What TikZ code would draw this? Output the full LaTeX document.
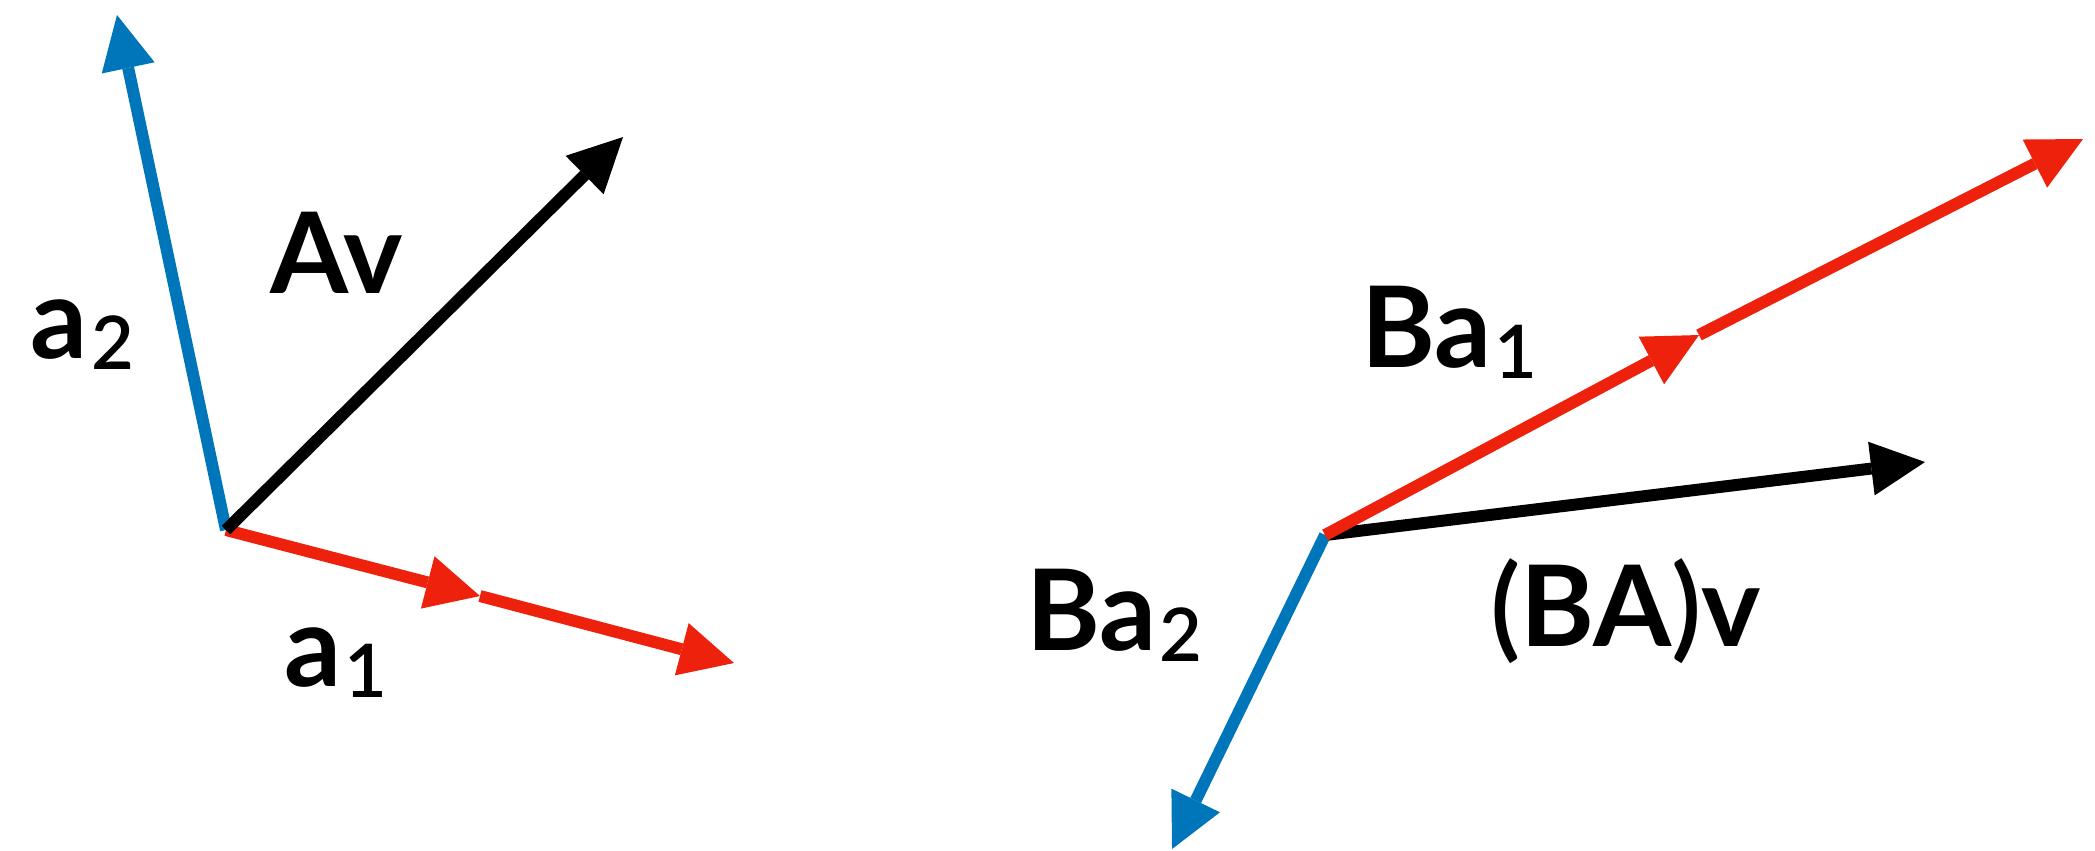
\documentclass[tikz,border=0pt]{standalone}
\usepackage{fontspec}
\setmainfont{Lato}
\newfontfamily\thinfont{Lato Light}
\usepackage{tikz}
\usetikzlibrary{arrows.meta, positioning}
\definecolor{vecblue}{RGB}{0,118,186}
\definecolor{vecred}{RGB}{238,34,12}
\tikzstyle{vec} = [line width=3.4pt, -{Triangle[length=0.54cm, width=0.54cm, line width=0pt]}]
\tikzstyle{vecb} = [vec, draw=vecblue]
\tikzstyle{vecr} = [vec, draw=vecred]
\tikzstyle{veck} = [vec, draw=black]
\tikzstyle{lab} = [inner sep=0pt, outer sep=0pt, anchor=base west, font=\fontsize{32}{38}\selectfont\bfseries]
\newcommand{\vsub}[1]{\kern1pt\raisebox{-3.4pt}{\fontsize{21}{25}\selectfont\thinfont #1}}

\begin{document}
\begin{tikzpicture}[x=0.01cm, y=-0.01cm]
            \useasboundingbox (0,0) rectangle (2095,850);

            % Points
            \coordinate (o1) at (226,530);
            \coordinate (a2) at (117,15);
            \coordinate (av) at (623,137);
            \coordinate (a1) at (480,596);
            \coordinate (a1b) at (734,663);

            \coordinate (o2) at (1325,535);
            \coordinate (ba1) at (1699,335);
            \coordinate (ba1b) at (2083,139);
            \coordinate (bav) at (1925,462);
            \coordinate (ba2) at (1172,849);

            % Labels
            \node (laba2) [lab] at (31,358) {a\vsub{2}};
            \node (labav) [lab] at (270,293) {Av};
            \node (laba1) [lab] at (284,686) {a\vsub{1}};

            \node (labba1) [lab] at (1361,367) {Ba\vsub{1}};
            \node (labba2) [lab] at (1026,650) {Ba\vsub{2}};
            \node (labbav) [lab] at (1490,646) {{\thinfont(}BA{\thinfont)}v};

            % Vectors before
            \draw [vecr] (o1) -- (a1);
            \draw [vecr] (a1) -- (a1b);
            \draw [vecb] (o1) -- (a2);
            \draw [veck] (o1) -- (av);

            % Vectors after
            \draw [veck] (o2) -- (bav);
            \draw [vecb] (o2) -- (ba2);
            \draw [vecr] (o2) -- (ba1);
            \draw [vecr] (ba1) -- (ba1b);

\end{tikzpicture}
\end{document}
